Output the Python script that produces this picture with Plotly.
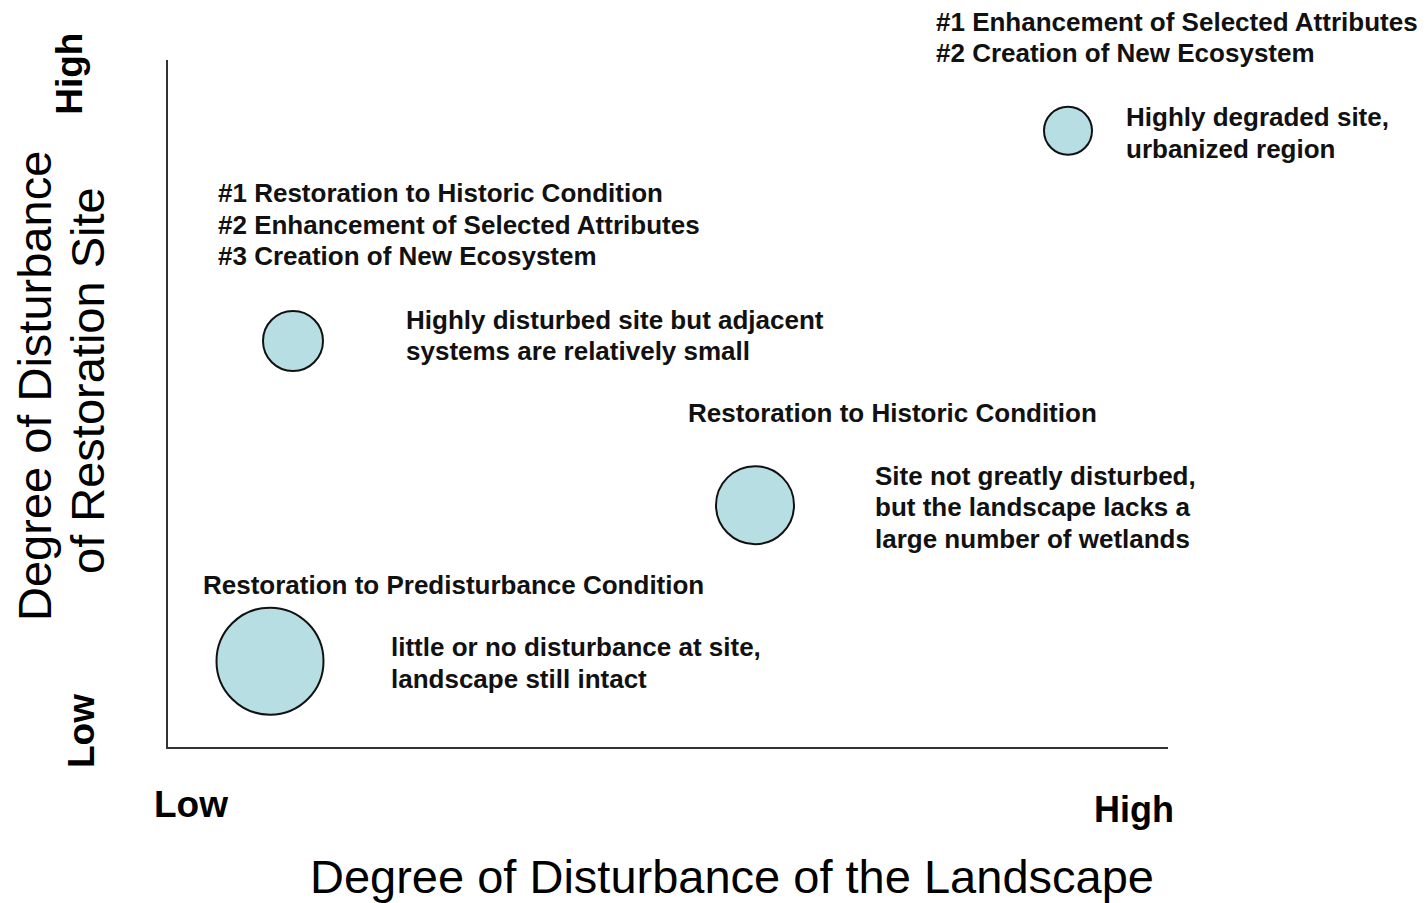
import plotly.graph_objects as go

# ---- data ----
landscape_disturbance = [10.2, 58.7, 12.5, 90.0]   # x: degree of disturbance of the landscape
site_disturbance = [12.5, 35.2, 59.1, 89.7]        # y: degree of disturbance of restoration site
bubble_value = [107, 78, 60, 48]                   # relative bubble size
strategy_labels = [
    ["Restoration to Predisturbance Condition"],
    ["Restoration to Historic Condition"],
    ["#1 Restoration to Historic Condition",
     "#2 Enhancement of Selected Attributes",
     "#3 Creation of New Ecosystem"],
    ["#1 Enhancement of Selected Attributes",
     "#2 Creation of New Ecosystem"],
]
site_descriptions = [
    ["little or no disturbance at site,", "landscape still intact"],
    ["Site not greatly disturbed,", "but the landscape lacks a", "large number of wetlands"],
    ["Highly disturbed site but adjacent", "systems are relatively small"],
    ["Highly degraded site,", "urbanized region"],
]
tick_labels = ["Low", "High"]
x_title = "Degree of Disturbance of the Landscape"
y_title_lines = ["Degree of Disturbance", "of Restoration Site"]

FONT = "Liberation Sans, Arial, sans-serif"
TXT = "#111111"

fig = go.Figure()
fig.add_trace(go.Scatter(
    x=landscape_disturbance, y=site_disturbance, mode="markers",
    marker=dict(size=bubble_value, color="#b7dfe3",
                line=dict(color="#111111", width=2), opacity=1),
    hoverinfo="skip", showlegend=False, cliponaxis=False,
))

# label block centres (paper coords)
strategy_pos = [(0.033, 0.236), (0.518, 0.486), (0.048, 0.760), (0.766, 1.033)]
desc_pos = [(0.221, 0.122), (0.705, 0.349), (0.236, 0.599), (0.956, 0.894)]
LINE = 0.04585  # line spacing in paper units

ann = []
def add_block(pos, lines):
    px, py = pos
    n = len(lines)
    for i, t in enumerate(lines):
        yy = py + ((n - 1) / 2 - i) * LINE
        ann.append(dict(x=px, y=yy, xref="paper", yref="paper", text=t, showarrow=False,
                        xanchor="left", yanchor="middle", align="left",
                        font=dict(family=FONT, size=26, color=TXT, weight="bold")))

for p, l in zip(strategy_pos, strategy_labels):
    add_block(p, l)
for p, l in zip(desc_pos, site_descriptions):
    add_block(p, l)

# axis low/high labels
ann.append(dict(x=0.023, y=-0.0844, xref="paper", yref="paper", text=tick_labels[0],
                showarrow=False, xanchor="center", yanchor="middle",
                font=dict(family=FONT, size=37, color="#000", weight="bold")))
ann.append(dict(x=0.966, y=-0.0917, xref="paper", yref="paper", text=tick_labels[1],
                showarrow=False, xanchor="center", yanchor="middle",
                font=dict(family=FONT, size=36, color="#000", weight="bold")))
ann.append(dict(x=-0.086, y=0.0233, xref="paper", yref="paper", text=tick_labels[0],
                showarrow=False, xanchor="center", yanchor="middle", textangle=-90,
                font=dict(family=FONT, size=37, color="#000", weight="bold")))
ann.append(dict(x=-0.098, y=0.98, xref="paper", yref="paper", text=tick_labels[1],
                showarrow=False, xanchor="center", yanchor="middle", textangle=-90,
                font=dict(family=FONT, size=37, color="#000", weight="bold")))

# axis titles
ann.append(dict(x=0.564, y=-0.189, xref="paper", yref="paper", text=x_title,
                showarrow=False, xanchor="center", yanchor="middle",
                font=dict(family=FONT, size=47, color="#000")))
ann.append(dict(x=-0.133, y=0.5255, xref="paper", yref="paper", text=y_title_lines[0],
                showarrow=False, xanchor="center", yanchor="middle", textangle=-90,
                font=dict(family=FONT, size=47, color="#000")))
ann.append(dict(x=-0.080, y=0.5328, xref="paper", yref="paper", text=y_title_lines[1],
                showarrow=False, xanchor="center", yanchor="middle", textangle=-90,
                font=dict(family=FONT, size=47, color="#000")))

fig.update_layout(
    width=1427, height=903,
    margin=dict(l=160, r=267, t=52, b=164),
    paper_bgcolor="white", plot_bgcolor="white",
    annotations=ann,
    xaxis=dict(range=[0, 100], showline=True, linecolor="#333333", linewidth=2,
               showgrid=False, zeroline=False, showticklabels=False, ticks="",
               fixedrange=True),
    yaxis=dict(range=[0, 100], showline=True, linecolor="#333333", linewidth=2,
               showgrid=False, zeroline=False, showticklabels=False, ticks="",
               fixedrange=True),
)

fig.write_html("out.html", config={"displayModeBar": False})
